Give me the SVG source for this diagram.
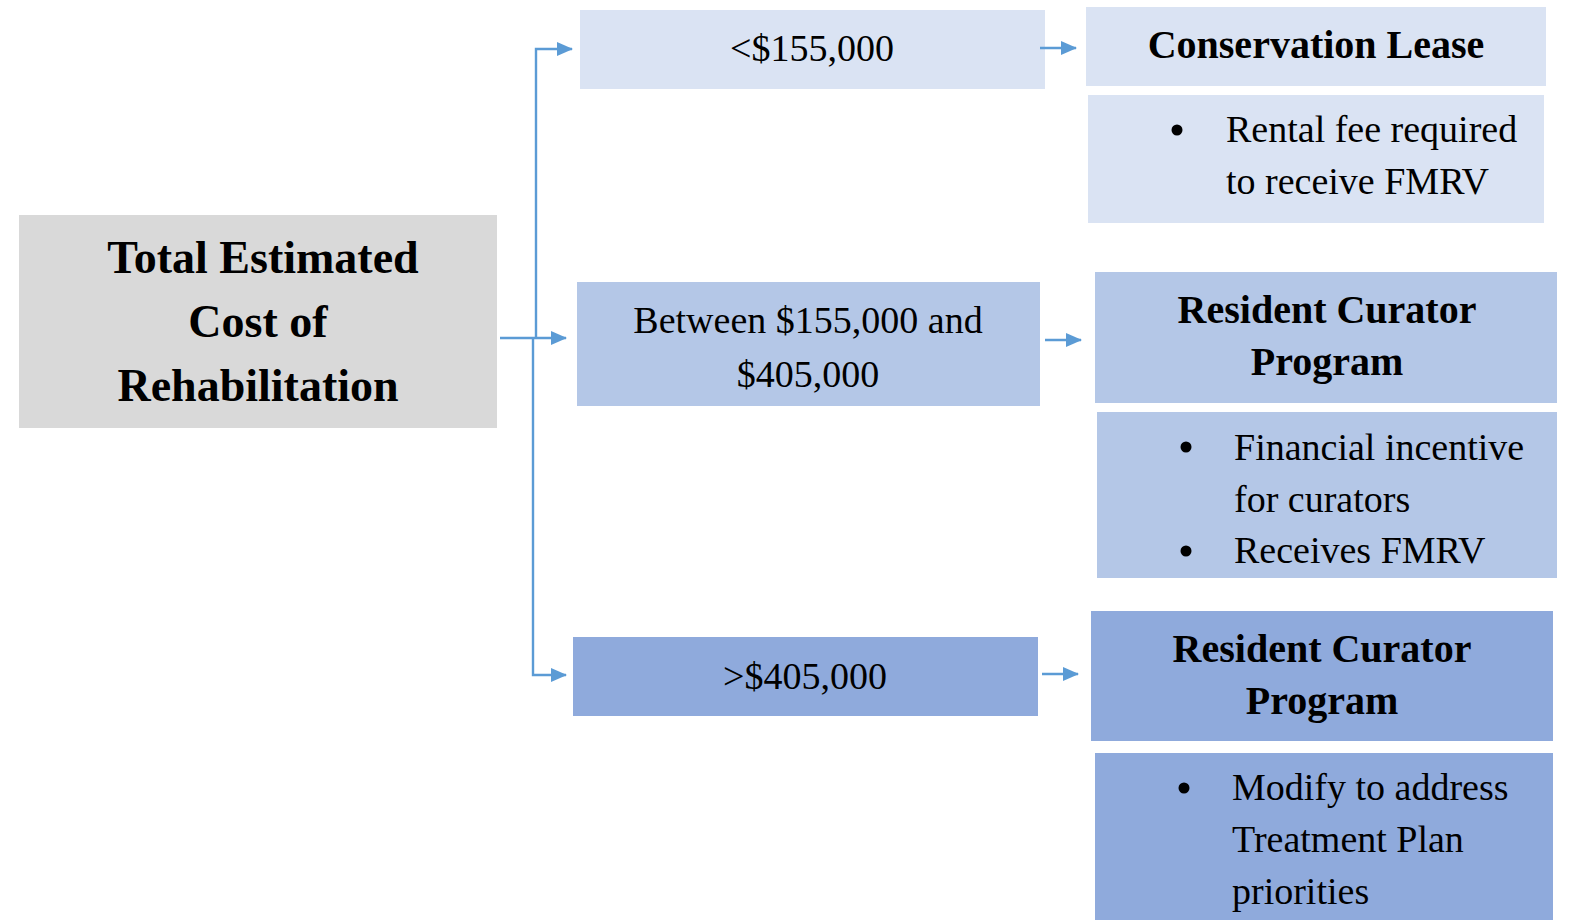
<svg xmlns="http://www.w3.org/2000/svg" width="1573" height="920" viewBox="0 0 1573 920">
<style>
.t{font-family:"Liberation Serif","Times New Roman",serif;fill:#000;}
.b{font-weight:bold;}
.c{text-anchor:middle;}
.l1{fill:#dae3f3;}
.l2{fill:#b4c7e7;}
.l3{fill:#8faadc;}
.conn{stroke:#5b9bd5;stroke-width:2.4;fill:none;}
</style>
<defs>
<marker id="ah" viewBox="0 0 16 14" refX="15" refY="7" markerWidth="16" markerHeight="14" markerUnits="userSpaceOnUse" orient="auto">
<path d="M0,0 L16,7 L0,14 Z" fill="#5b9bd5"/>
</marker>
</defs>
<rect width="1573" height="920" fill="#fff"/>

<g id="root">
<rect x="19" y="215" width="478" height="213" fill="#d9d9d9"/>
<text class="t b c" x="263" y="273" font-size="46">Total Estimated</text>
<text class="t b c" x="258" y="337" font-size="46">Cost of</text>
<text class="t b c" x="258" y="401" font-size="46">Rehabilitation</text>
</g>

<g id="low">
<rect class="l1" x="580" y="10" width="465" height="79"/>
<text class="t c" x="812" y="61" font-size="38">&lt;$155,000</text>
</g>

<g id="mid">
<rect class="l2" x="577" y="282" width="463" height="124"/>
<text class="t c" x="808" y="333" font-size="38">Between $155,000 and</text>
<text class="t c" x="808" y="387" font-size="38">$405,000</text>
</g>

<g id="high">
<rect class="l3" x="573" y="637" width="465" height="79"/>
<text class="t c" x="805" y="689" font-size="38">&gt;$405,000</text>
</g>

<g id="lease">
<rect class="l1" x="1086" y="7" width="460" height="79"/>
<text class="t b c" x="1316" y="58" font-size="40">Conservation Lease</text>
</g>

<g id="lease-notes">
<rect class="l1" x="1088" y="95" width="456" height="128"/>
<circle cx="1177" cy="130" r="5.5"/>
<text class="t" x="1226" y="142" font-size="38">Rental fee required</text>
<text class="t" x="1226" y="194" font-size="38">to receive FMRV</text>
</g>

<g id="curator-mid">
<rect class="l2" x="1095" y="272" width="462" height="131"/>
<text class="t b c" x="1327" y="323" font-size="40">Resident Curator</text>
<text class="t b c" x="1327" y="375" font-size="40">Program</text>
</g>

<g id="curator-mid-notes">
<rect class="l2" x="1097" y="412" width="460" height="166"/>
<circle cx="1186" cy="447" r="5.5"/>
<circle cx="1186" cy="551" r="5.5"/>
<text class="t" x="1234" y="460" font-size="38">Financial incentive</text>
<text class="t" x="1234" y="512" font-size="38">for curators</text>
<text class="t" x="1234" y="563" font-size="38">Receives FMRV</text>
</g>

<g id="curator-high">
<rect class="l3" x="1091" y="611" width="462" height="130"/>
<text class="t b c" x="1322" y="662" font-size="40">Resident Curator</text>
<text class="t b c" x="1322" y="714" font-size="40">Program</text>
</g>

<g id="curator-high-notes">
<rect class="l3" x="1095" y="753" width="458" height="167"/>
<circle cx="1184" cy="788" r="5.5"/>
<text class="t" x="1232" y="800" font-size="38">Modify to address</text>
<text class="t" x="1232" y="852" font-size="38">Treatment Plan</text>
<text class="t" x="1232" y="904" font-size="38">priorities</text>
</g>

<g id="connectors">
<path class="conn" d="M500,338 L566,338" stroke-width="3.2" marker-end="url(#ah)"/>
<path class="conn" d="M536,338 L536,49 L572,49" marker-end="url(#ah)"/>
<path class="conn" d="M533,338 L533,675 L566,675" marker-end="url(#ah)"/>
<path class="conn" d="M1040,48 L1076,48" marker-end="url(#ah)"/>
<path class="conn" d="M1045,340 L1081,340" marker-end="url(#ah)"/>
<path class="conn" d="M1042,674 L1078,674" marker-end="url(#ah)"/>
</g>
</svg>
